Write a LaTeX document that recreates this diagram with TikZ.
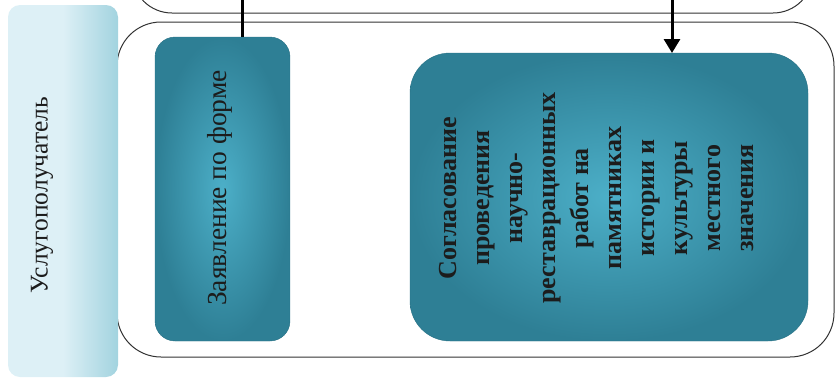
\documentclass[tikz,border=0pt]{standalone}
\usepackage{fontspec}
\setmainfont{Liberation Serif}
\usetikzlibrary{arrows.meta}
\definecolor{lbA}{HTML}{DDF0F6}
\definecolor{lbB}{HTML}{A2D3DF}
\definecolor{tealOut}{HTML}{2E7F95}
\definecolor{tealIn}{HTML}{4CAFC8}
\definecolor{txt}{HTML}{1C1C1C}
\begin{document}
\begin{tikzpicture}[x=1pt,y=-1pt,
  frame/.style={draw=black!80, line width=1pt},
  tealbox/.style={draw=tealOut!90!black, line width=0.4pt, inner color=tealIn, outer color=tealOut},
  vtext/.style={rotate=90, text=txt, align=center},
  link/.style={line width=3pt, draw=black}]
\useasboundingbox (0,0) rectangle (836,381);
% upper container (cut off)
\draw[frame, rounded corners=40pt] (132,-60) rectangle (813,13);
% main container
\draw[frame, rounded corners=44pt] (117,22) rectangle (834,357);
% left box
\path[left color=lbA, right color=lbB, middle color=lbA, rounded corners=12pt] (8,5) rectangle (118,377);
\node[vtext, font=\fontsize{25.5}{30}\selectfont] (client) at (42,195) {Услугополучатель};
% box 1
\path[tealbox, rounded corners=20pt] (155,37) rectangle (290,341);
\coordinate (b1top) at (242,37);
\node[vtext, font=\fontsize{27.5}{32}\selectfont] (app) at (220,188) {Заявление по форме};
% box 2
\path[tealbox, rounded corners=40pt] (410,53) rectangle (808,341);
\coordinate (b2top) at (672,53);
\node[vtext, font=\bfseries\fontsize{26}{33}\selectfont] (agree) at (597,198) {Согласование\\проведения\\научно-\\реставрационных\\работ на\\памятниках\\истории и\\культуры\\местного\\значения};
% connectors
\coordinate (t1) at (242,0);
\coordinate (t2) at (672,0);
\draw[link] (t1) -- (b1top);
\draw[link, -{Triangle[length=14pt,width=16pt]}] (t2) -- (b2top);
\end{tikzpicture}
\end{document}
